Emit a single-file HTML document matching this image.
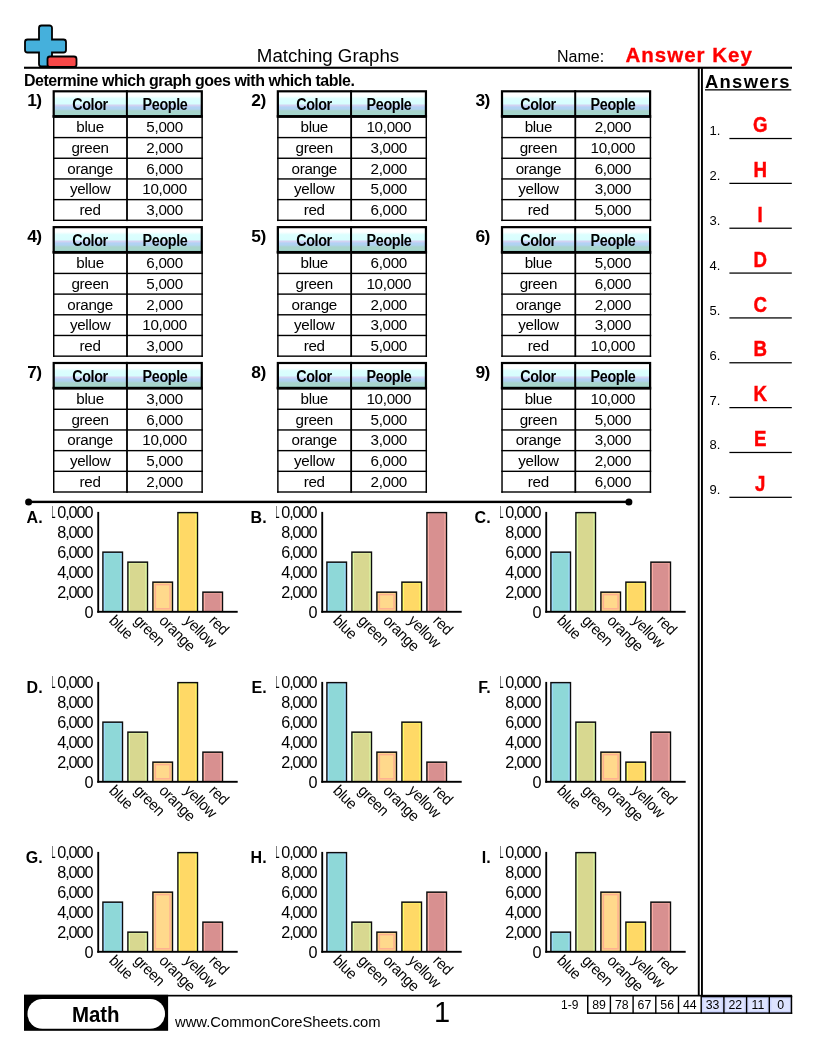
<!DOCTYPE html>
<html lang="en"><head><meta charset="utf-8"><title>Matching Graphs</title>
<style>
*{margin:0;padding:0;box-sizing:border-box}
html,body{width:816px;height:1056px;background:#fff;overflow:hidden}
body{position:relative;font-family:"Liberation Sans",sans-serif;color:#000}
.a{position:absolute;white-space:nowrap;line-height:1}
.b{font-weight:bold}
#g{position:absolute;left:0;top:0}
.hg{position:absolute;width:148px;height:25px;background:linear-gradient(#fff 0%,#fdffff 20%,#dcfefe 31%,#d8fefe 50%,#d2d2f2 58%,#b2d2f4 65%,#b0d2f0 72%,#a8d4cc 80%,#a6d6cc 92%,#98dada 100%)}
.ht{position:absolute;width:74px;text-align:center;font-weight:bold;font-size:15.6px;line-height:1;letter-spacing:-0.4px;white-space:nowrap;transform:scaleX(0.92)}
.c{position:absolute;width:74px;text-align:center;font-size:15.2px;line-height:1;letter-spacing:-0.3px;white-space:nowrap}
.num{position:absolute;font-weight:bold;font-size:17.4px;line-height:1;letter-spacing:-0.5px;white-space:nowrap}
.yl{position:absolute;width:60px;text-align:right;font-size:16.2px;line-height:1;white-space:nowrap;letter-spacing:-1.1px}
.yc{position:absolute;overflow:hidden;width:48px;height:125px}
.xl{position:absolute;font-size:15.5px;line-height:1;letter-spacing:-0.35px;white-space:nowrap;transform-origin:0 50%;transform:rotate(45deg) scaleX(0.94)}
.cl{position:absolute;font-weight:bold;font-size:16px;line-height:1;white-space:nowrap}
.an{position:absolute;left:709.5px;font-size:13px;line-height:1;white-space:nowrap}
.av{position:absolute;left:729.4px;width:62.4px;text-align:center;font-weight:bold;font-size:22.5px;color:#f00;line-height:1;transform:scaleX(0.83);-webkit-text-stroke:0.45px #f00}
.sc{position:absolute;width:23px;text-align:center;font-size:12.3px;line-height:1;white-space:nowrap}
</style></head>
<body>
<div class="hg" style="left:53.6px;top:91.2px"></div><div class="hg" style="left:277.75px;top:91.2px"></div><div class="hg" style="left:501.9px;top:91.2px"></div><div class="hg" style="left:53.6px;top:227.05px"></div><div class="hg" style="left:277.75px;top:227.05px"></div><div class="hg" style="left:501.9px;top:227.05px"></div><div class="hg" style="left:53.6px;top:362.9px"></div><div class="hg" style="left:277.75px;top:362.9px"></div><div class="hg" style="left:501.9px;top:362.9px"></div>
<svg id="g" width="816" height="1056" viewBox="0 0 816 1056">
<path d="M41.5 25.5h8a2.500 2.500 0 0 1 2.500 2.500v11.500h11.500a2.500 2.500 0 0 1 2.500 2.500v8a2.500 2.500 0 0 1 -2.500 2.500h-11.500v11.500a2.500 2.500 0 0 1 -2.500 2.500h-8a2.500 2.500 0 0 1 -2.500 -2.500v-11.500h-11.500a2.500 2.500 0 0 1 -2.500 -2.500v-8a2.500 2.500 0 0 1 2.500 -2.500h11.500v-11.500a2.500 2.500 0 0 1 2.500 -2.500z" fill="#45b0dc" stroke="#000" stroke-width="1.8"/>
<rect x="47.5" y="56.500" width="29" height="10.500" rx="2.500" fill="#f84848" stroke="#000" stroke-width="1.8"/>
<rect x="24" y="66.700" width="768" height="2.100"/>
<rect x="697.8" y="68" width="1.900" height="928"/><rect x="701" y="68" width="1.900" height="928"/>
<rect x="705" y="89.200" width="86.300" height="1.300"/>
<rect x="729.4" y="137.9" width="62.400" height="1.250"/>
<rect x="729.4" y="182.75" width="62.400" height="1.250"/>
<rect x="729.4" y="227.6" width="62.400" height="1.250"/>
<rect x="729.4" y="272.45" width="62.400" height="1.250"/>
<rect x="729.4" y="317.3" width="62.400" height="1.250"/>
<rect x="729.4" y="362.15" width="62.400" height="1.250"/>
<rect x="729.4" y="407" width="62.400" height="1.250"/>
<rect x="729.4" y="451.85" width="62.400" height="1.250"/>
<rect x="729.4" y="496.7" width="62.400" height="1.250"/>
<rect x="53.7" y="91.3" width="148.1" height="25.2" fill="none" stroke="#000" stroke-width="2.200"/>
<rect x="52.6" y="115.1" width="150.300" height="2.700"/>
<rect x="125.9" y="90.2" width="2" height="27"/>
<rect x="53" y="136.88" width="149.9" height="1.400"/>
<rect x="53" y="157.56" width="149.9" height="1.400"/>
<rect x="53" y="178.24" width="149.9" height="1.400"/>
<rect x="53" y="198.92" width="149.9" height="1.400"/>
<rect x="53" y="219.6" width="149.9" height="1.400"/>
<rect x="53" y="117.2" width="1.450" height="103.9"/>
<rect x="201.4" y="117.2" width="1.450" height="103.9"/>
<rect x="126.1" y="117.2" width="1.800" height="103.9"/>
<rect x="277.85" y="91.3" width="148.1" height="25.2" fill="none" stroke="#000" stroke-width="2.200"/>
<rect x="276.75" y="115.1" width="150.300" height="2.700"/>
<rect x="350.05" y="90.2" width="2" height="27"/>
<rect x="277.15" y="136.88" width="149.9" height="1.400"/>
<rect x="277.15" y="157.56" width="149.9" height="1.400"/>
<rect x="277.15" y="178.24" width="149.9" height="1.400"/>
<rect x="277.15" y="198.92" width="149.9" height="1.400"/>
<rect x="277.15" y="219.6" width="149.9" height="1.400"/>
<rect x="277.15" y="117.2" width="1.450" height="103.9"/>
<rect x="425.55" y="117.2" width="1.450" height="103.9"/>
<rect x="350.25" y="117.2" width="1.800" height="103.9"/>
<rect x="502" y="91.3" width="148.1" height="25.2" fill="none" stroke="#000" stroke-width="2.200"/>
<rect x="500.9" y="115.1" width="150.300" height="2.700"/>
<rect x="574.2" y="90.2" width="2" height="27"/>
<rect x="501.3" y="136.88" width="149.9" height="1.400"/>
<rect x="501.3" y="157.56" width="149.9" height="1.400"/>
<rect x="501.3" y="178.24" width="149.9" height="1.400"/>
<rect x="501.3" y="198.92" width="149.9" height="1.400"/>
<rect x="501.3" y="219.6" width="149.9" height="1.400"/>
<rect x="501.3" y="117.2" width="1.450" height="103.9"/>
<rect x="649.7" y="117.2" width="1.450" height="103.9"/>
<rect x="574.4" y="117.2" width="1.800" height="103.9"/>
<rect x="53.7" y="227.15" width="148.1" height="25.2" fill="none" stroke="#000" stroke-width="2.200"/>
<rect x="52.6" y="250.95" width="150.300" height="2.700"/>
<rect x="125.9" y="226.05" width="2" height="27"/>
<rect x="53" y="272.73" width="149.9" height="1.400"/>
<rect x="53" y="293.41" width="149.9" height="1.400"/>
<rect x="53" y="314.09" width="149.9" height="1.400"/>
<rect x="53" y="334.77" width="149.9" height="1.400"/>
<rect x="53" y="355.45" width="149.9" height="1.400"/>
<rect x="53" y="253.05" width="1.450" height="103.9"/>
<rect x="201.4" y="253.05" width="1.450" height="103.9"/>
<rect x="126.1" y="253.05" width="1.800" height="103.9"/>
<rect x="277.85" y="227.15" width="148.1" height="25.2" fill="none" stroke="#000" stroke-width="2.200"/>
<rect x="276.75" y="250.95" width="150.300" height="2.700"/>
<rect x="350.05" y="226.05" width="2" height="27"/>
<rect x="277.15" y="272.73" width="149.9" height="1.400"/>
<rect x="277.15" y="293.41" width="149.9" height="1.400"/>
<rect x="277.15" y="314.09" width="149.9" height="1.400"/>
<rect x="277.15" y="334.77" width="149.9" height="1.400"/>
<rect x="277.15" y="355.45" width="149.9" height="1.400"/>
<rect x="277.15" y="253.05" width="1.450" height="103.9"/>
<rect x="425.55" y="253.05" width="1.450" height="103.9"/>
<rect x="350.25" y="253.05" width="1.800" height="103.9"/>
<rect x="502" y="227.15" width="148.1" height="25.2" fill="none" stroke="#000" stroke-width="2.200"/>
<rect x="500.9" y="250.95" width="150.300" height="2.700"/>
<rect x="574.2" y="226.05" width="2" height="27"/>
<rect x="501.3" y="272.73" width="149.9" height="1.400"/>
<rect x="501.3" y="293.41" width="149.9" height="1.400"/>
<rect x="501.3" y="314.09" width="149.9" height="1.400"/>
<rect x="501.3" y="334.77" width="149.9" height="1.400"/>
<rect x="501.3" y="355.45" width="149.9" height="1.400"/>
<rect x="501.3" y="253.05" width="1.450" height="103.9"/>
<rect x="649.7" y="253.05" width="1.450" height="103.9"/>
<rect x="574.4" y="253.05" width="1.800" height="103.9"/>
<rect x="53.7" y="363" width="148.1" height="25.2" fill="none" stroke="#000" stroke-width="2.200"/>
<rect x="52.6" y="386.8" width="150.300" height="2.700"/>
<rect x="125.9" y="361.9" width="2" height="27"/>
<rect x="53" y="408.58" width="149.9" height="1.400"/>
<rect x="53" y="429.26" width="149.9" height="1.400"/>
<rect x="53" y="449.94" width="149.9" height="1.400"/>
<rect x="53" y="470.62" width="149.9" height="1.400"/>
<rect x="53" y="491.3" width="149.9" height="1.400"/>
<rect x="53" y="388.9" width="1.450" height="103.9"/>
<rect x="201.4" y="388.9" width="1.450" height="103.9"/>
<rect x="126.1" y="388.9" width="1.800" height="103.9"/>
<rect x="277.85" y="363" width="148.1" height="25.2" fill="none" stroke="#000" stroke-width="2.200"/>
<rect x="276.75" y="386.8" width="150.300" height="2.700"/>
<rect x="350.05" y="361.9" width="2" height="27"/>
<rect x="277.15" y="408.58" width="149.9" height="1.400"/>
<rect x="277.15" y="429.26" width="149.9" height="1.400"/>
<rect x="277.15" y="449.94" width="149.9" height="1.400"/>
<rect x="277.15" y="470.62" width="149.9" height="1.400"/>
<rect x="277.15" y="491.3" width="149.9" height="1.400"/>
<rect x="277.15" y="388.9" width="1.450" height="103.9"/>
<rect x="425.55" y="388.9" width="1.450" height="103.9"/>
<rect x="350.25" y="388.9" width="1.800" height="103.9"/>
<rect x="502" y="363" width="148.1" height="25.2" fill="none" stroke="#000" stroke-width="2.200"/>
<rect x="500.9" y="386.8" width="150.300" height="2.700"/>
<rect x="574.2" y="361.9" width="2" height="27"/>
<rect x="501.3" y="408.58" width="149.9" height="1.400"/>
<rect x="501.3" y="429.26" width="149.9" height="1.400"/>
<rect x="501.3" y="449.94" width="149.9" height="1.400"/>
<rect x="501.3" y="470.62" width="149.9" height="1.400"/>
<rect x="501.3" y="491.3" width="149.9" height="1.400"/>
<rect x="501.3" y="388.9" width="1.450" height="103.9"/>
<rect x="649.7" y="388.9" width="1.450" height="103.9"/>
<rect x="574.4" y="388.9" width="1.800" height="103.9"/>
<rect x="28.5" y="500.700" width="600" height="2.400"/><circle cx="28.600" cy="502" r="3.500"/><circle cx="628.900" cy="502" r="3.500"/>
<g transform="translate(0 0)">
<rect x="102.2" y="551.4" width="21" height="60.1" fill="#0c0c0c"/>
<rect x="103.6" y="552.9" width="18.200" height="58.6" fill="#a0dcff"/>
<rect x="104.9" y="553.4" width="15.600" height="58.1" fill="#8ed8d8"/>
<rect x="127.2" y="561.4" width="21" height="50.1" fill="#0c0c0c"/>
<rect x="128.6" y="562.9" width="18.200" height="48.6" fill="#e0ffa8"/>
<rect x="129.9" y="563.4" width="15.600" height="48.1" fill="#d8d890"/>
<rect x="152.2" y="581.4" width="21" height="30.1" fill="#0c0c0c"/>
<rect x="153.6" y="582.9" width="18.200" height="28.6" fill="#ffd98c"/>
<rect x="155.35" y="584.6" width="14.700" height="24.2" fill="none" stroke="#ffb090" stroke-width="1.500"/>
<rect x="177.2" y="511.9" width="21" height="99.6" fill="#0c0c0c"/>
<rect x="178.6" y="513.4" width="18.200" height="98.1" fill="#ffff66"/>
<rect x="179.9" y="513.9" width="15.600" height="97.6" fill="#ffd966"/>
<rect x="202.2" y="591.4" width="21" height="20.1" fill="#0c0c0c"/>
<rect x="203.6" y="592.9" width="18.200" height="18.6" fill="#ffb0a8"/>
<rect x="204.9" y="593.4" width="15.600" height="18.1" fill="#d89090"/>
<rect x="97.3" y="511.900" width="1.850" height="100.800"/><rect x="97.3" y="610.850" width="140.400" height="1.900"/>
</g>
<g transform="translate(224 0)">
<rect x="102.2" y="561.4" width="21" height="50.1" fill="#0c0c0c"/>
<rect x="103.6" y="562.9" width="18.200" height="48.6" fill="#a0dcff"/>
<rect x="104.9" y="563.4" width="15.600" height="48.1" fill="#8ed8d8"/>
<rect x="127.2" y="551.4" width="21" height="60.1" fill="#0c0c0c"/>
<rect x="128.6" y="552.9" width="18.200" height="58.6" fill="#e0ffa8"/>
<rect x="129.9" y="553.4" width="15.600" height="58.1" fill="#d8d890"/>
<rect x="152.2" y="591.4" width="21" height="20.1" fill="#0c0c0c"/>
<rect x="153.6" y="592.9" width="18.200" height="18.6" fill="#ffd98c"/>
<rect x="155.35" y="594.6" width="14.700" height="14.2" fill="none" stroke="#ffb090" stroke-width="1.500"/>
<rect x="177.2" y="581.4" width="21" height="30.1" fill="#0c0c0c"/>
<rect x="178.6" y="582.9" width="18.200" height="28.6" fill="#ffff66"/>
<rect x="179.9" y="583.4" width="15.600" height="28.1" fill="#ffd966"/>
<rect x="202.2" y="511.9" width="21" height="99.6" fill="#0c0c0c"/>
<rect x="203.6" y="513.4" width="18.200" height="98.1" fill="#ffb0a8"/>
<rect x="204.9" y="513.9" width="15.600" height="97.6" fill="#d89090"/>
<rect x="97.3" y="511.900" width="1.850" height="100.800"/><rect x="97.3" y="610.850" width="140.400" height="1.900"/>
</g>
<g transform="translate(448 0)">
<rect x="102.2" y="551.4" width="21" height="60.1" fill="#0c0c0c"/>
<rect x="103.6" y="552.9" width="18.200" height="58.6" fill="#a0dcff"/>
<rect x="104.9" y="553.4" width="15.600" height="58.1" fill="#8ed8d8"/>
<rect x="127.2" y="511.9" width="21" height="99.6" fill="#0c0c0c"/>
<rect x="128.6" y="513.4" width="18.200" height="98.1" fill="#e0ffa8"/>
<rect x="129.9" y="513.9" width="15.600" height="97.6" fill="#d8d890"/>
<rect x="152.2" y="591.4" width="21" height="20.1" fill="#0c0c0c"/>
<rect x="153.6" y="592.9" width="18.200" height="18.6" fill="#ffd98c"/>
<rect x="155.35" y="594.6" width="14.700" height="14.2" fill="none" stroke="#ffb090" stroke-width="1.500"/>
<rect x="177.2" y="581.4" width="21" height="30.1" fill="#0c0c0c"/>
<rect x="178.6" y="582.9" width="18.200" height="28.6" fill="#ffff66"/>
<rect x="179.9" y="583.4" width="15.600" height="28.1" fill="#ffd966"/>
<rect x="202.2" y="561.4" width="21" height="50.1" fill="#0c0c0c"/>
<rect x="203.6" y="562.9" width="18.200" height="48.6" fill="#ffb0a8"/>
<rect x="204.9" y="563.4" width="15.600" height="48.1" fill="#d89090"/>
<rect x="97.3" y="511.900" width="1.850" height="100.800"/><rect x="97.3" y="610.850" width="140.400" height="1.900"/>
</g>
<g transform="translate(0 170)">
<rect x="102.2" y="551.4" width="21" height="60.1" fill="#0c0c0c"/>
<rect x="103.6" y="552.9" width="18.200" height="58.6" fill="#a0dcff"/>
<rect x="104.9" y="553.4" width="15.600" height="58.1" fill="#8ed8d8"/>
<rect x="127.2" y="561.4" width="21" height="50.1" fill="#0c0c0c"/>
<rect x="128.6" y="562.9" width="18.200" height="48.6" fill="#e0ffa8"/>
<rect x="129.9" y="563.4" width="15.600" height="48.1" fill="#d8d890"/>
<rect x="152.2" y="591.4" width="21" height="20.1" fill="#0c0c0c"/>
<rect x="153.6" y="592.9" width="18.200" height="18.6" fill="#ffd98c"/>
<rect x="155.35" y="594.6" width="14.700" height="14.2" fill="none" stroke="#ffb090" stroke-width="1.500"/>
<rect x="177.2" y="511.9" width="21" height="99.6" fill="#0c0c0c"/>
<rect x="178.6" y="513.4" width="18.200" height="98.1" fill="#ffff66"/>
<rect x="179.9" y="513.9" width="15.600" height="97.6" fill="#ffd966"/>
<rect x="202.2" y="581.4" width="21" height="30.1" fill="#0c0c0c"/>
<rect x="203.6" y="582.9" width="18.200" height="28.6" fill="#ffb0a8"/>
<rect x="204.9" y="583.4" width="15.600" height="28.1" fill="#d89090"/>
<rect x="97.3" y="511.900" width="1.850" height="100.800"/><rect x="97.3" y="610.850" width="140.400" height="1.900"/>
</g>
<g transform="translate(224 170)">
<rect x="102.2" y="511.9" width="21" height="99.6" fill="#0c0c0c"/>
<rect x="103.6" y="513.4" width="18.200" height="98.1" fill="#a0dcff"/>
<rect x="104.9" y="513.9" width="15.600" height="97.6" fill="#8ed8d8"/>
<rect x="127.2" y="561.4" width="21" height="50.1" fill="#0c0c0c"/>
<rect x="128.6" y="562.9" width="18.200" height="48.6" fill="#e0ffa8"/>
<rect x="129.9" y="563.4" width="15.600" height="48.1" fill="#d8d890"/>
<rect x="152.2" y="581.4" width="21" height="30.1" fill="#0c0c0c"/>
<rect x="153.6" y="582.9" width="18.200" height="28.6" fill="#ffd98c"/>
<rect x="155.35" y="584.6" width="14.700" height="24.2" fill="none" stroke="#ffb090" stroke-width="1.500"/>
<rect x="177.2" y="551.4" width="21" height="60.1" fill="#0c0c0c"/>
<rect x="178.6" y="552.9" width="18.200" height="58.6" fill="#ffff66"/>
<rect x="179.9" y="553.4" width="15.600" height="58.1" fill="#ffd966"/>
<rect x="202.2" y="591.4" width="21" height="20.1" fill="#0c0c0c"/>
<rect x="203.6" y="592.9" width="18.200" height="18.6" fill="#ffb0a8"/>
<rect x="204.9" y="593.4" width="15.600" height="18.1" fill="#d89090"/>
<rect x="97.3" y="511.900" width="1.850" height="100.800"/><rect x="97.3" y="610.850" width="140.400" height="1.900"/>
</g>
<g transform="translate(448 170)">
<rect x="102.2" y="511.9" width="21" height="99.6" fill="#0c0c0c"/>
<rect x="103.6" y="513.4" width="18.200" height="98.1" fill="#a0dcff"/>
<rect x="104.9" y="513.9" width="15.600" height="97.6" fill="#8ed8d8"/>
<rect x="127.2" y="551.4" width="21" height="60.1" fill="#0c0c0c"/>
<rect x="128.6" y="552.9" width="18.200" height="58.6" fill="#e0ffa8"/>
<rect x="129.9" y="553.4" width="15.600" height="58.1" fill="#d8d890"/>
<rect x="152.2" y="581.4" width="21" height="30.1" fill="#0c0c0c"/>
<rect x="153.6" y="582.9" width="18.200" height="28.6" fill="#ffd98c"/>
<rect x="155.35" y="584.6" width="14.700" height="24.2" fill="none" stroke="#ffb090" stroke-width="1.500"/>
<rect x="177.2" y="591.4" width="21" height="20.1" fill="#0c0c0c"/>
<rect x="178.6" y="592.9" width="18.200" height="18.6" fill="#ffff66"/>
<rect x="179.9" y="593.4" width="15.600" height="18.1" fill="#ffd966"/>
<rect x="202.2" y="561.4" width="21" height="50.1" fill="#0c0c0c"/>
<rect x="203.6" y="562.9" width="18.200" height="48.6" fill="#ffb0a8"/>
<rect x="204.9" y="563.4" width="15.600" height="48.1" fill="#d89090"/>
<rect x="97.3" y="511.900" width="1.850" height="100.800"/><rect x="97.3" y="610.850" width="140.400" height="1.900"/>
</g>
<g transform="translate(0 340)">
<rect x="102.2" y="561.4" width="21" height="50.1" fill="#0c0c0c"/>
<rect x="103.6" y="562.9" width="18.200" height="48.6" fill="#a0dcff"/>
<rect x="104.9" y="563.4" width="15.600" height="48.1" fill="#8ed8d8"/>
<rect x="127.2" y="591.4" width="21" height="20.1" fill="#0c0c0c"/>
<rect x="128.6" y="592.9" width="18.200" height="18.6" fill="#e0ffa8"/>
<rect x="129.9" y="593.4" width="15.600" height="18.1" fill="#d8d890"/>
<rect x="152.2" y="551.4" width="21" height="60.1" fill="#0c0c0c"/>
<rect x="153.6" y="552.9" width="18.200" height="58.6" fill="#ffd98c"/>
<rect x="155.35" y="554.6" width="14.700" height="54.2" fill="none" stroke="#ffb090" stroke-width="1.500"/>
<rect x="177.2" y="511.9" width="21" height="99.6" fill="#0c0c0c"/>
<rect x="178.6" y="513.4" width="18.200" height="98.1" fill="#ffff66"/>
<rect x="179.9" y="513.9" width="15.600" height="97.6" fill="#ffd966"/>
<rect x="202.2" y="581.4" width="21" height="30.1" fill="#0c0c0c"/>
<rect x="203.6" y="582.9" width="18.200" height="28.6" fill="#ffb0a8"/>
<rect x="204.9" y="583.4" width="15.600" height="28.1" fill="#d89090"/>
<rect x="97.3" y="511.900" width="1.850" height="100.800"/><rect x="97.3" y="610.850" width="140.400" height="1.900"/>
</g>
<g transform="translate(224 340)">
<rect x="102.2" y="511.9" width="21" height="99.6" fill="#0c0c0c"/>
<rect x="103.6" y="513.4" width="18.200" height="98.1" fill="#a0dcff"/>
<rect x="104.9" y="513.9" width="15.600" height="97.6" fill="#8ed8d8"/>
<rect x="127.2" y="581.4" width="21" height="30.1" fill="#0c0c0c"/>
<rect x="128.6" y="582.9" width="18.200" height="28.6" fill="#e0ffa8"/>
<rect x="129.9" y="583.4" width="15.600" height="28.1" fill="#d8d890"/>
<rect x="152.2" y="591.4" width="21" height="20.1" fill="#0c0c0c"/>
<rect x="153.6" y="592.9" width="18.200" height="18.6" fill="#ffd98c"/>
<rect x="155.35" y="594.6" width="14.700" height="14.2" fill="none" stroke="#ffb090" stroke-width="1.500"/>
<rect x="177.2" y="561.4" width="21" height="50.1" fill="#0c0c0c"/>
<rect x="178.6" y="562.9" width="18.200" height="48.6" fill="#ffff66"/>
<rect x="179.9" y="563.4" width="15.600" height="48.1" fill="#ffd966"/>
<rect x="202.2" y="551.4" width="21" height="60.1" fill="#0c0c0c"/>
<rect x="203.6" y="552.9" width="18.200" height="58.6" fill="#ffb0a8"/>
<rect x="204.9" y="553.4" width="15.600" height="58.1" fill="#d89090"/>
<rect x="97.3" y="511.900" width="1.850" height="100.800"/><rect x="97.3" y="610.850" width="140.400" height="1.900"/>
</g>
<g transform="translate(448 340)">
<rect x="102.2" y="591.4" width="21" height="20.1" fill="#0c0c0c"/>
<rect x="103.6" y="592.9" width="18.200" height="18.6" fill="#a0dcff"/>
<rect x="104.9" y="593.4" width="15.600" height="18.1" fill="#8ed8d8"/>
<rect x="127.2" y="511.9" width="21" height="99.6" fill="#0c0c0c"/>
<rect x="128.6" y="513.4" width="18.200" height="98.1" fill="#e0ffa8"/>
<rect x="129.9" y="513.9" width="15.600" height="97.6" fill="#d8d890"/>
<rect x="152.2" y="551.4" width="21" height="60.1" fill="#0c0c0c"/>
<rect x="153.6" y="552.9" width="18.200" height="58.6" fill="#ffd98c"/>
<rect x="155.35" y="554.6" width="14.700" height="54.2" fill="none" stroke="#ffb090" stroke-width="1.500"/>
<rect x="177.2" y="581.4" width="21" height="30.1" fill="#0c0c0c"/>
<rect x="178.6" y="582.9" width="18.200" height="28.6" fill="#ffff66"/>
<rect x="179.9" y="583.4" width="15.600" height="28.1" fill="#ffd966"/>
<rect x="202.2" y="561.4" width="21" height="50.1" fill="#0c0c0c"/>
<rect x="203.6" y="562.9" width="18.200" height="48.6" fill="#ffb0a8"/>
<rect x="204.9" y="563.4" width="15.600" height="48.1" fill="#d89090"/>
<rect x="97.3" y="511.900" width="1.850" height="100.800"/><rect x="97.3" y="610.850" width="140.400" height="1.900"/>
</g>
<rect x="24" y="994.800" width="768" height="1.700"/>
<rect x="24" y="994.800" width="144.100" height="36"/><rect x="27.500" y="999" width="137.500" height="29.800" rx="14.900" fill="#fff"/>
<rect x="701.2" y="996" width="90.500" height="17.100" fill="#ccd4fc"/>
<rect x="703.4" y="998.800" width="18.300" height="12.200" fill="#dde3ff"/>
<rect x="726.1" y="998.800" width="18.300" height="12.200" fill="#dde3ff"/>
<rect x="748.8" y="998.800" width="18.300" height="12.200" fill="#dde3ff"/>
<rect x="771.5" y="998.800" width="18.300" height="12.200" fill="#dde3ff"/>
<rect x="587.7" y="1012.400" width="204.500" height="1.500"/><rect x="587" y="996" width="1.500" height="17.900"/><rect x="790.700" y="996" width="1.500" height="17.900"/><rect x="701" y="995.400" width="91.200" height="1.900"/>
<rect x="609.7" y="996" width="1.400" height="17.500"/>
<rect x="632.4" y="996" width="1.400" height="17.500"/>
<rect x="655.1" y="996" width="1.400" height="17.500"/>
<rect x="677.8" y="996" width="1.400" height="17.500"/>
<rect x="700.5" y="996" width="1.400" height="17.500"/>
<rect x="723.2" y="996" width="1.400" height="17.500"/>
<rect x="745.9" y="996" width="1.400" height="17.500"/>
<rect x="768.6" y="996" width="1.400" height="17.500"/>
</svg>
<div class="a" style="left:228px;top:47.47px;width:200px;text-align:center;font-size:18.7px">Matching Graphs</div>
<div class="a" style="left:557px;top:48.76px;font-size:16px">Name:</div>
<div class="a b" style="left:625.5px;top:44.85px;font-size:20.5px;color:#f00;letter-spacing:1px;-webkit-text-stroke:0.3px #f00">Answer Key</div>
<div class="a b" style="left:24px;top:71.94px;font-size:17.2px;letter-spacing:-0.5px;transform-origin:0 50%;transform:scaleX(0.93)">Determine which graph goes with which table.</div>
<div class="a b" style="left:705px;top:72.82px;font-size:18.4px;letter-spacing:1.3px">Answers</div>
<div class="an" style="top:124.4px">1.</div><div class="av" style="top:114.15px">G</div>
<div class="an" style="top:169.25px">2.</div><div class="av" style="top:159px">H</div>
<div class="an" style="top:214.1px">3.</div><div class="av" style="top:203.85px">I</div>
<div class="an" style="top:258.95px">4.</div><div class="av" style="top:248.7px">D</div>
<div class="an" style="top:303.8px">5.</div><div class="av" style="top:293.55px">C</div>
<div class="an" style="top:348.65px">6.</div><div class="av" style="top:338.4px">B</div>
<div class="an" style="top:393.5px">7.</div><div class="av" style="top:383.25px">K</div>
<div class="an" style="top:438.35px">8.</div><div class="av" style="top:428.1px">E</div>
<div class="an" style="top:483.2px">9.</div><div class="av" style="top:472.95px">J</div>
<div class="num" style="left:11.6px;width:30px;text-align:right;top:92.47px">1)</div><div class="ht" style="left:53.1px;top:97.19px">Color</div><div class="ht" style="left:127.6px;top:97.19px">People</div><div class="c" style="left:53.1px;top:119.43px">blue</div><div class="c" style="left:127.6px;top:119.43px">5,000</div><div class="c" style="left:53.1px;top:140.05px">green</div><div class="c" style="left:127.6px;top:140.05px">2,000</div><div class="c" style="left:53.1px;top:160.67px">orange</div><div class="c" style="left:127.6px;top:160.67px">6,000</div><div class="c" style="left:53.1px;top:181.29px">yellow</div><div class="c" style="left:127.6px;top:181.29px">10,000</div><div class="c" style="left:53.1px;top:201.91px">red</div><div class="c" style="left:127.6px;top:201.91px">3,000</div>
<div class="num" style="left:235.75px;width:30px;text-align:right;top:92.47px">2)</div><div class="ht" style="left:277.25px;top:97.19px">Color</div><div class="ht" style="left:351.75px;top:97.19px">People</div><div class="c" style="left:277.25px;top:119.43px">blue</div><div class="c" style="left:351.75px;top:119.43px">10,000</div><div class="c" style="left:277.25px;top:140.05px">green</div><div class="c" style="left:351.75px;top:140.05px">3,000</div><div class="c" style="left:277.25px;top:160.67px">orange</div><div class="c" style="left:351.75px;top:160.67px">2,000</div><div class="c" style="left:277.25px;top:181.29px">yellow</div><div class="c" style="left:351.75px;top:181.29px">5,000</div><div class="c" style="left:277.25px;top:201.91px">red</div><div class="c" style="left:351.75px;top:201.91px">6,000</div>
<div class="num" style="left:459.9px;width:30px;text-align:right;top:92.47px">3)</div><div class="ht" style="left:501.4px;top:97.19px">Color</div><div class="ht" style="left:575.9px;top:97.19px">People</div><div class="c" style="left:501.4px;top:119.43px">blue</div><div class="c" style="left:575.9px;top:119.43px">2,000</div><div class="c" style="left:501.4px;top:140.05px">green</div><div class="c" style="left:575.9px;top:140.05px">10,000</div><div class="c" style="left:501.4px;top:160.67px">orange</div><div class="c" style="left:575.9px;top:160.67px">6,000</div><div class="c" style="left:501.4px;top:181.29px">yellow</div><div class="c" style="left:575.9px;top:181.29px">3,000</div><div class="c" style="left:501.4px;top:201.91px">red</div><div class="c" style="left:575.9px;top:201.91px">5,000</div>
<div class="num" style="left:11.6px;width:30px;text-align:right;top:228.32px">4)</div><div class="ht" style="left:53.1px;top:233.04px">Color</div><div class="ht" style="left:127.6px;top:233.04px">People</div><div class="c" style="left:53.1px;top:255.28px">blue</div><div class="c" style="left:127.6px;top:255.28px">6,000</div><div class="c" style="left:53.1px;top:275.9px">green</div><div class="c" style="left:127.6px;top:275.9px">5,000</div><div class="c" style="left:53.1px;top:296.52px">orange</div><div class="c" style="left:127.6px;top:296.52px">2,000</div><div class="c" style="left:53.1px;top:317.14px">yellow</div><div class="c" style="left:127.6px;top:317.14px">10,000</div><div class="c" style="left:53.1px;top:337.76px">red</div><div class="c" style="left:127.6px;top:337.76px">3,000</div>
<div class="num" style="left:235.75px;width:30px;text-align:right;top:228.32px">5)</div><div class="ht" style="left:277.25px;top:233.04px">Color</div><div class="ht" style="left:351.75px;top:233.04px">People</div><div class="c" style="left:277.25px;top:255.28px">blue</div><div class="c" style="left:351.75px;top:255.28px">6,000</div><div class="c" style="left:277.25px;top:275.9px">green</div><div class="c" style="left:351.75px;top:275.9px">10,000</div><div class="c" style="left:277.25px;top:296.52px">orange</div><div class="c" style="left:351.75px;top:296.52px">2,000</div><div class="c" style="left:277.25px;top:317.14px">yellow</div><div class="c" style="left:351.75px;top:317.14px">3,000</div><div class="c" style="left:277.25px;top:337.76px">red</div><div class="c" style="left:351.75px;top:337.76px">5,000</div>
<div class="num" style="left:459.9px;width:30px;text-align:right;top:228.32px">6)</div><div class="ht" style="left:501.4px;top:233.04px">Color</div><div class="ht" style="left:575.9px;top:233.04px">People</div><div class="c" style="left:501.4px;top:255.28px">blue</div><div class="c" style="left:575.9px;top:255.28px">5,000</div><div class="c" style="left:501.4px;top:275.9px">green</div><div class="c" style="left:575.9px;top:275.9px">6,000</div><div class="c" style="left:501.4px;top:296.52px">orange</div><div class="c" style="left:575.9px;top:296.52px">2,000</div><div class="c" style="left:501.4px;top:317.14px">yellow</div><div class="c" style="left:575.9px;top:317.14px">3,000</div><div class="c" style="left:501.4px;top:337.76px">red</div><div class="c" style="left:575.9px;top:337.76px">10,000</div>
<div class="num" style="left:11.6px;width:30px;text-align:right;top:364.17px">7)</div><div class="ht" style="left:53.1px;top:368.89px">Color</div><div class="ht" style="left:127.6px;top:368.89px">People</div><div class="c" style="left:53.1px;top:391.13px">blue</div><div class="c" style="left:127.6px;top:391.13px">3,000</div><div class="c" style="left:53.1px;top:411.75px">green</div><div class="c" style="left:127.6px;top:411.75px">6,000</div><div class="c" style="left:53.1px;top:432.37px">orange</div><div class="c" style="left:127.6px;top:432.37px">10,000</div><div class="c" style="left:53.1px;top:452.99px">yellow</div><div class="c" style="left:127.6px;top:452.99px">5,000</div><div class="c" style="left:53.1px;top:473.61px">red</div><div class="c" style="left:127.6px;top:473.61px">2,000</div>
<div class="num" style="left:235.75px;width:30px;text-align:right;top:364.17px">8)</div><div class="ht" style="left:277.25px;top:368.89px">Color</div><div class="ht" style="left:351.75px;top:368.89px">People</div><div class="c" style="left:277.25px;top:391.13px">blue</div><div class="c" style="left:351.75px;top:391.13px">10,000</div><div class="c" style="left:277.25px;top:411.75px">green</div><div class="c" style="left:351.75px;top:411.75px">5,000</div><div class="c" style="left:277.25px;top:432.37px">orange</div><div class="c" style="left:351.75px;top:432.37px">3,000</div><div class="c" style="left:277.25px;top:452.99px">yellow</div><div class="c" style="left:351.75px;top:452.99px">6,000</div><div class="c" style="left:277.25px;top:473.61px">red</div><div class="c" style="left:351.75px;top:473.61px">2,000</div>
<div class="num" style="left:459.9px;width:30px;text-align:right;top:364.17px">9)</div><div class="ht" style="left:501.4px;top:368.89px">Color</div><div class="ht" style="left:575.9px;top:368.89px">People</div><div class="c" style="left:501.4px;top:391.13px">blue</div><div class="c" style="left:575.9px;top:391.13px">10,000</div><div class="c" style="left:501.4px;top:411.75px">green</div><div class="c" style="left:575.9px;top:411.75px">5,000</div><div class="c" style="left:501.4px;top:432.37px">orange</div><div class="c" style="left:575.9px;top:432.37px">3,000</div><div class="c" style="left:501.4px;top:452.99px">yellow</div><div class="c" style="left:575.9px;top:452.99px">2,000</div><div class="c" style="left:501.4px;top:473.61px">red</div><div class="c" style="left:575.9px;top:473.61px">6,000</div>
<div class="cl" style="left:12.6px;width:30px;text-align:right;top:509.66px">A.</div><div class="yc" style="left:52px;top:503px"><div class="yl" style="right:7.7px;top:0.89px"><span style="letter-spacing:1.3px">1</span>0,000</div><div class="yl" style="right:7.7px;top:20.89px">8,000</div><div class="yl" style="right:7.7px;top:40.89px">6,000</div><div class="yl" style="right:7.7px;top:60.89px">4,000</div><div class="yl" style="right:7.7px;top:80.89px">2,000</div><div class="yl" style="right:7.7px;top:100.89px">0</div></div><div class="xl" style="left:112.1px;top:610.3px">blue</div><div class="xl" style="left:137.1px;top:610.3px">green</div><div class="xl" style="left:162.1px;top:610.3px">orange</div><div class="xl" style="left:187.1px;top:610.3px">yellow</div><div class="xl" style="left:212.1px;top:610.3px">red</div>
<div class="cl" style="left:236.6px;width:30px;text-align:right;top:509.66px">B.</div><div class="yc" style="left:276px;top:503px"><div class="yl" style="right:7.7px;top:0.89px"><span style="letter-spacing:1.3px">1</span>0,000</div><div class="yl" style="right:7.7px;top:20.89px">8,000</div><div class="yl" style="right:7.7px;top:40.89px">6,000</div><div class="yl" style="right:7.7px;top:60.89px">4,000</div><div class="yl" style="right:7.7px;top:80.89px">2,000</div><div class="yl" style="right:7.7px;top:100.89px">0</div></div><div class="xl" style="left:336.1px;top:610.3px">blue</div><div class="xl" style="left:361.1px;top:610.3px">green</div><div class="xl" style="left:386.1px;top:610.3px">orange</div><div class="xl" style="left:411.1px;top:610.3px">yellow</div><div class="xl" style="left:436.1px;top:610.3px">red</div>
<div class="cl" style="left:460.6px;width:30px;text-align:right;top:509.66px">C.</div><div class="yc" style="left:500px;top:503px"><div class="yl" style="right:7.7px;top:0.89px"><span style="letter-spacing:1.3px">1</span>0,000</div><div class="yl" style="right:7.7px;top:20.89px">8,000</div><div class="yl" style="right:7.7px;top:40.89px">6,000</div><div class="yl" style="right:7.7px;top:60.89px">4,000</div><div class="yl" style="right:7.7px;top:80.89px">2,000</div><div class="yl" style="right:7.7px;top:100.89px">0</div></div><div class="xl" style="left:560.1px;top:610.3px">blue</div><div class="xl" style="left:585.1px;top:610.3px">green</div><div class="xl" style="left:610.1px;top:610.3px">orange</div><div class="xl" style="left:635.1px;top:610.3px">yellow</div><div class="xl" style="left:660.1px;top:610.3px">red</div>
<div class="cl" style="left:12.6px;width:30px;text-align:right;top:679.66px">D.</div><div class="yc" style="left:52px;top:673px"><div class="yl" style="right:7.7px;top:0.89px"><span style="letter-spacing:1.3px">1</span>0,000</div><div class="yl" style="right:7.7px;top:20.89px">8,000</div><div class="yl" style="right:7.7px;top:40.89px">6,000</div><div class="yl" style="right:7.7px;top:60.89px">4,000</div><div class="yl" style="right:7.7px;top:80.89px">2,000</div><div class="yl" style="right:7.7px;top:100.89px">0</div></div><div class="xl" style="left:112.1px;top:780.3px">blue</div><div class="xl" style="left:137.1px;top:780.3px">green</div><div class="xl" style="left:162.1px;top:780.3px">orange</div><div class="xl" style="left:187.1px;top:780.3px">yellow</div><div class="xl" style="left:212.1px;top:780.3px">red</div>
<div class="cl" style="left:236.6px;width:30px;text-align:right;top:679.66px">E.</div><div class="yc" style="left:276px;top:673px"><div class="yl" style="right:7.7px;top:0.89px"><span style="letter-spacing:1.3px">1</span>0,000</div><div class="yl" style="right:7.7px;top:20.89px">8,000</div><div class="yl" style="right:7.7px;top:40.89px">6,000</div><div class="yl" style="right:7.7px;top:60.89px">4,000</div><div class="yl" style="right:7.7px;top:80.89px">2,000</div><div class="yl" style="right:7.7px;top:100.89px">0</div></div><div class="xl" style="left:336.1px;top:780.3px">blue</div><div class="xl" style="left:361.1px;top:780.3px">green</div><div class="xl" style="left:386.1px;top:780.3px">orange</div><div class="xl" style="left:411.1px;top:780.3px">yellow</div><div class="xl" style="left:436.1px;top:780.3px">red</div>
<div class="cl" style="left:460.6px;width:30px;text-align:right;top:679.66px">F.</div><div class="yc" style="left:500px;top:673px"><div class="yl" style="right:7.7px;top:0.89px"><span style="letter-spacing:1.3px">1</span>0,000</div><div class="yl" style="right:7.7px;top:20.89px">8,000</div><div class="yl" style="right:7.7px;top:40.89px">6,000</div><div class="yl" style="right:7.7px;top:60.89px">4,000</div><div class="yl" style="right:7.7px;top:80.89px">2,000</div><div class="yl" style="right:7.7px;top:100.89px">0</div></div><div class="xl" style="left:560.1px;top:780.3px">blue</div><div class="xl" style="left:585.1px;top:780.3px">green</div><div class="xl" style="left:610.1px;top:780.3px">orange</div><div class="xl" style="left:635.1px;top:780.3px">yellow</div><div class="xl" style="left:660.1px;top:780.3px">red</div>
<div class="cl" style="left:12.6px;width:30px;text-align:right;top:849.66px">G.</div><div class="yc" style="left:52px;top:843px"><div class="yl" style="right:7.7px;top:0.89px"><span style="letter-spacing:1.3px">1</span>0,000</div><div class="yl" style="right:7.7px;top:20.89px">8,000</div><div class="yl" style="right:7.7px;top:40.89px">6,000</div><div class="yl" style="right:7.7px;top:60.89px">4,000</div><div class="yl" style="right:7.7px;top:80.89px">2,000</div><div class="yl" style="right:7.7px;top:100.89px">0</div></div><div class="xl" style="left:112.1px;top:950.3px">blue</div><div class="xl" style="left:137.1px;top:950.3px">green</div><div class="xl" style="left:162.1px;top:950.3px">orange</div><div class="xl" style="left:187.1px;top:950.3px">yellow</div><div class="xl" style="left:212.1px;top:950.3px">red</div>
<div class="cl" style="left:236.6px;width:30px;text-align:right;top:849.66px">H.</div><div class="yc" style="left:276px;top:843px"><div class="yl" style="right:7.7px;top:0.89px"><span style="letter-spacing:1.3px">1</span>0,000</div><div class="yl" style="right:7.7px;top:20.89px">8,000</div><div class="yl" style="right:7.7px;top:40.89px">6,000</div><div class="yl" style="right:7.7px;top:60.89px">4,000</div><div class="yl" style="right:7.7px;top:80.89px">2,000</div><div class="yl" style="right:7.7px;top:100.89px">0</div></div><div class="xl" style="left:336.1px;top:950.3px">blue</div><div class="xl" style="left:361.1px;top:950.3px">green</div><div class="xl" style="left:386.1px;top:950.3px">orange</div><div class="xl" style="left:411.1px;top:950.3px">yellow</div><div class="xl" style="left:436.1px;top:950.3px">red</div>
<div class="cl" style="left:460.6px;width:30px;text-align:right;top:849.66px">I.</div><div class="yc" style="left:500px;top:843px"><div class="yl" style="right:7.7px;top:0.89px"><span style="letter-spacing:1.3px">1</span>0,000</div><div class="yl" style="right:7.7px;top:20.89px">8,000</div><div class="yl" style="right:7.7px;top:40.89px">6,000</div><div class="yl" style="right:7.7px;top:60.89px">4,000</div><div class="yl" style="right:7.7px;top:80.89px">2,000</div><div class="yl" style="right:7.7px;top:100.89px">0</div></div><div class="xl" style="left:560.1px;top:950.3px">blue</div><div class="xl" style="left:585.1px;top:950.3px">green</div><div class="xl" style="left:610.1px;top:950.3px">orange</div><div class="xl" style="left:635.1px;top:950.3px">yellow</div><div class="xl" style="left:660.1px;top:950.3px">red</div>
<div class="a b" style="left:26.8px;top:1003.58px;width:137.500px;text-align:center;font-size:22px;transform:scaleX(0.93)">Math</div>
<div class="a" style="left:175px;top:1015.47px;font-size:14.8px">www.CommonCoreSheets.com</div>
<div class="a" style="left:430px;top:997.85px;width:24px;text-align:center;font-size:29px">1</div>
<div class="a" style="left:561px;top:999.24px;font-size:12px">1-9</div>
<div class="sc" style="left:587.55px;top:999.19px">89</div><div class="sc" style="left:610.25px;top:999.19px">78</div><div class="sc" style="left:632.95px;top:999.19px">67</div><div class="sc" style="left:655.65px;top:999.19px">56</div><div class="sc" style="left:678.35px;top:999.19px">44</div><div class="sc" style="left:701.05px;top:999.19px">33</div><div class="sc" style="left:723.75px;top:999.19px">22</div><div class="sc" style="left:746.45px;top:999.19px">11</div><div class="sc" style="left:769.15px;top:999.19px">0</div>
</body></html>
